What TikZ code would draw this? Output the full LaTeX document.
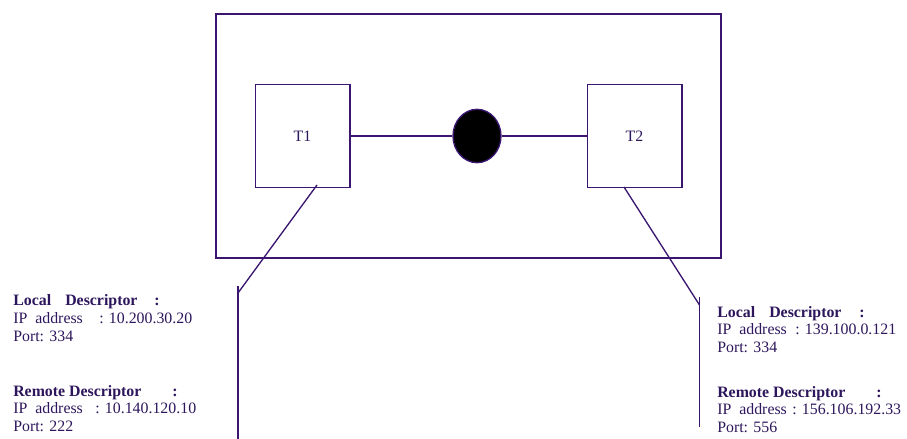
\documentclass[tikz,border=0pt]{standalone}
\usepackage{fontspec}
\setmainfont{Liberation Serif}
\usetikzlibrary{shapes.geometric}
\definecolor{ln}{RGB}{58,22,112}
\definecolor{tx}{RGB}{45,22,92}
\begin{document}
\begin{tikzpicture}[x=0.75pt,y=-0.75pt,
  every node/.style={font=\fontsize{11.9}{14}\selectfont, text=tx},
  lbl/.style={anchor=base west, inner sep=0pt},
  hd/.style={lbl, font=\fontsize{11.9}{14}\selectfont\bfseries},
  termbox/.style={draw=ln, line width=1pt, minimum width=71pt, minimum height=77pt, inner sep=0pt},
  wire/.style={draw=ln, line width=1pt}]
\useasboundingbox (0,0) rectangle (907,439);
% outer box
\node[draw=ln, line width=1pt, minimum width=378.75pt, minimum height=183pt, inner sep=0pt] (outer) at (468.5,136) {};
\node[termbox] (t1) at (302.5,136) {T1};
\node[termbox] (t2) at (634.5,136) {T2};
\node[ellipse, draw=ln, fill=black, line width=1pt, minimum width=36pt, minimum height=40pt, inner sep=0pt] (hub) at (477,136) {};
\draw[wire] (t1.east) -- (hub.west);
\draw[wire] (hub.east) -- (t2.west);
% left descriptor
\coordinate (la) at (317,185);
\coordinate (lb) at (238,293);
\coordinate (ltop) at (238,286);
\coordinate (lbot) at (238,439);
\draw[wire] (la) -- (lb);
\draw[wire] (ltop) -- (lbot);
% right descriptor
\coordinate (ra) at (624,187);
\coordinate (rb) at (699.5,305);
\coordinate (rtop) at (699.5,297);
\coordinate (rbot) at (699.5,427);
\draw[wire] (ra) -- (rb);
\draw[wire] (rtop) -- (rbot);
% left texts
\node[hd] (l1a) at (13,305) {Local};
\node[hd] (l1b) at (65,305) {Descriptor};
\node[hd] (l1c) at (154,305) {:};
\node[lbl] (l2a) at (13,323) {IP\ \ address};
\node[lbl] (l2b) at (99,323) {: 10.200.30.20};
\node[lbl] (l3) at (13,341) {Port: 334};
\node[hd] (l4a) at (13,396) {Remote Descriptor};
\node[hd] (l4c) at (172,396) {:};
\node[lbl] (l5a) at (13,413.5) {IP\ \ address};
\node[lbl] (l5b) at (95,413.5) {: 10.140.120.10};
\node[lbl] (l6) at (13,431.5) {Port: 222};
% right texts
\node[hd] (r1a) at (717,317) {Local};
\node[hd] (r1b) at (769,317) {Descriptor};
\node[hd] (r1c) at (859,317) {:};
\node[lbl] (r2a) at (717,334.5) {IP\ \ address};
\node[lbl] (r2b) at (795,334.5) {: 139.100.0.121};
\node[lbl] (r3) at (717,352) {Port: 334};
\node[hd] (r4a) at (717,397) {Remote Descriptor};
\node[hd] (r4c) at (876,397) {:};
\node[lbl] (r5a) at (717,414.5) {IP\ \ address};
\node[lbl] (r5b) at (792,414.5) {: 156.106.192.33};
\node[lbl] (r6) at (717,432) {Port: 556};
\end{tikzpicture}
\end{document}
